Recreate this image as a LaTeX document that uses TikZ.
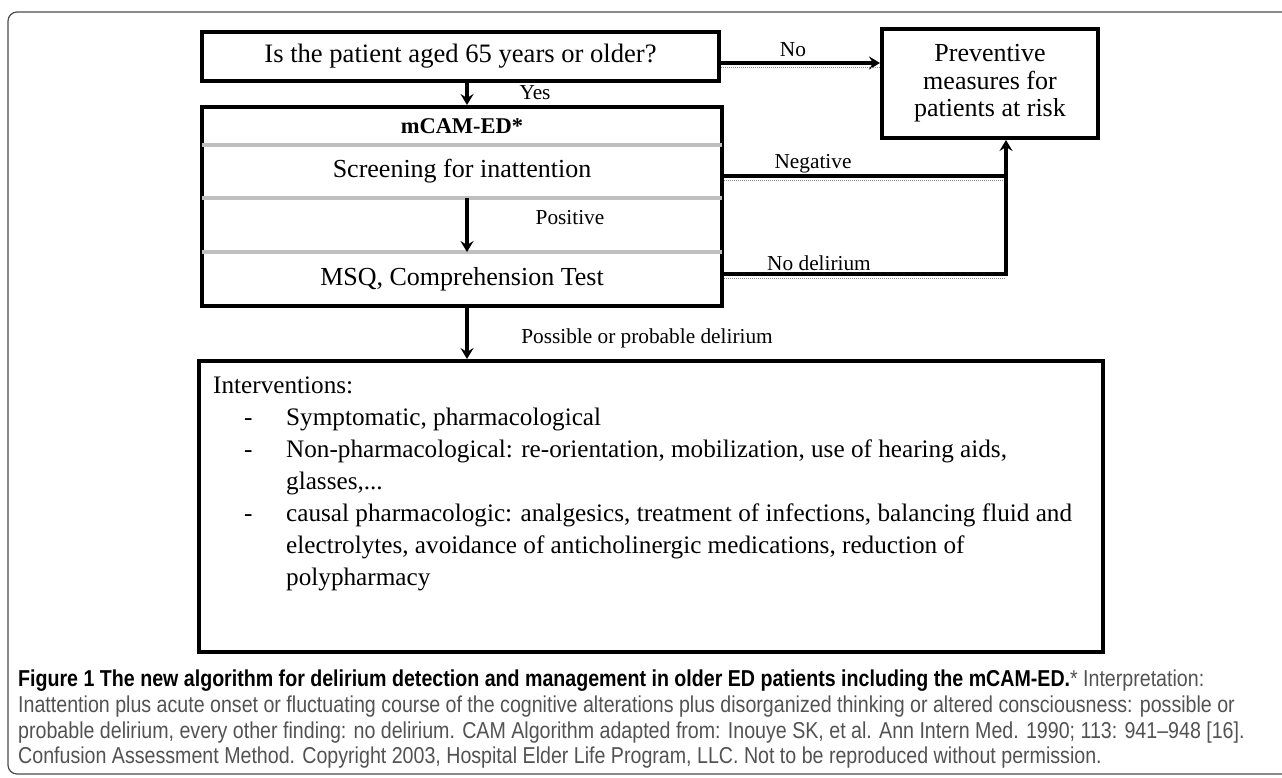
\documentclass[tikz,border=0pt]{standalone}
\usepackage{fontspec}
\setmainfont{Liberation Serif}
\newfontfamily\capfont[FakeStretch=0.853]{Liberation Sans}
\usetikzlibrary{arrows.meta,positioning,calc}

\newcommand{\ivitem}{\makebox[73pt][l]{\hspace*{31pt}-}}
\newcommand{\ivgap}{\hspace*{73pt}}

\begin{document}
\begin{tikzpicture}[x=1pt, y=-1pt,
    box/.style={draw, line width=4pt, inner sep=0pt, align=center,
      font=\fontsize{26}{27.5}\selectfont},
    plain/.style={inner sep=0pt, font=\fontsize{26}{27.5}\selectfont},
    link/.style={line width=3.5pt},
    arrow/.style={link, -{Stealth[length=11pt, width=13pt, inset=4pt]}},
    lowdots/.style={postaction={draw, -, line width=1pt, black!45, densely dotted,
      transform canvas={yshift=-4.5pt}}},
    lbl/.style={inner sep=0pt, font=\fontsize{21.3}{24}\selectfont},
    sep/.style={line width=4pt, black!25}]
  \useasboundingbox (0,0) rectangle (1282,778);
  \clip (0,0) rectangle (1282,778);
  \draw [line width=1.2pt, black!70, rounded corners=9pt] (8,12) rectangle (1310,774);

  \coordinate (ax) at (467,0);
  \coordinate (ux) at (1006,0);
  \coordinate (yno) at (0,63);
  \coordinate (yneg) at (0,176);
  \coordinate (ynd) at (0,274);
  \coordinate (s1) at (0,145);
  \coordinate (s2) at (0,198);
  \coordinate (s3) at (0,252);

  \node [box, minimum width=517, minimum height=49, font=\fontsize{26.6}{28}\selectfont] (q65) at (460.5,56.5)
    {Is the patient aged 65 years or older?};
  \node [box, minimum width=216, minimum height=109] (prev) at (990,83.5)
    {Preventive\\ measures for\\ patients at risk};
  \node [box, minimum width=520, minimum height=199] (mcam) at (462,206.5) {};
  \node [box, minimum width=904, minimum height=291] (interv) at (651,506.5) {};

  \foreach \s in {s1,s2,s3}
    \draw [sep] ([xshift=2pt]mcam.west |- \s) -- ([xshift=-2pt]mcam.east |- \s);

  \node [inner sep=0pt, font=\bfseries\fontsize{22.5}{24}\selectfont] (mtitle) at (462,126) {mCAM-ED*};
  \node [plain] (screen) at (462,171) {Screening for inattention};
  \node [plain] (msq) at (462,279) {MSQ, Comprehension Test};

  \node [anchor=north west, inner sep=0pt, align=left,
    font=\fontsize{25.2}{32}\selectfont] (ivlist) at (213,377)
    {Interventions:\\
     \ivitem Symptomatic, pharmacological\\
     \ivitem Non-pharmacological: re-orientation, mobilization, use of hearing aids,\\
     \ivgap glasses,...\\
     \ivitem causal pharmacologic: analgesics, treatment of infections, balancing fluid and\\
     \ivgap electrolytes, avoidance of anticholinergic medications, reduction of\\
     \ivgap polypharmacy};

  \draw [arrow] (q65.south -| ax) -- (mcam.north -| ax);
  \draw [arrow] (s2 -| ax) -- (s3 -| ax);
  \draw [arrow] (mcam.south -| ax) -- (interv.north -| ax);
  \draw [arrow, lowdots] (q65.east |- yno) -- (prev.west |- yno);
  \draw [link, lowdots] (mcam.east |- yneg) -- (ux |- yneg);
  \draw [link, lowdots] (mcam.east |- ynd) -- (ux |- ynd);
  \draw [arrow, line cap=rect] (ux |- ynd) -- (prev.south -| ux);

  \node [lbl] (lno) at (793,50) {No};
  \node [lbl] (lyes) at (535,93) {Yes};
  \node [lbl] (lneg) at (813,164) {Negative};
  \node [lbl] (lpos) at (570,218) {Positive};
  \node [lbl] (lnd) at (819,263) {No delirium};
  \node [lbl] (lposs) at (647,338) {Possible or probable delirium};

  \node [anchor=north west, inner sep=0pt, align=left, text=black!68,
    font=\capfont\fontsize{23}{25.7}\selectfont] (caption) at (18,670)
    {{\bfseries\color{black}Figure 1 The new algorithm for delirium detection and management in older ED patients including the mCAM-ED.}* Interpretation:\\
     Inattention plus acute onset or fluctuating course of the cognitive alterations plus disorganized thinking or altered consciousness: possible or\\
     probable delirium, every other finding: no delirium. CAM Algorithm adapted from: Inouye SK, et al. Ann Intern Med. 1990; 113: 941–948 [16].\\
     Confusion Assessment Method. Copyright 2003, Hospital Elder Life Program, LLC. Not to be reproduced without permission.};
\end{tikzpicture}
\end{document}
